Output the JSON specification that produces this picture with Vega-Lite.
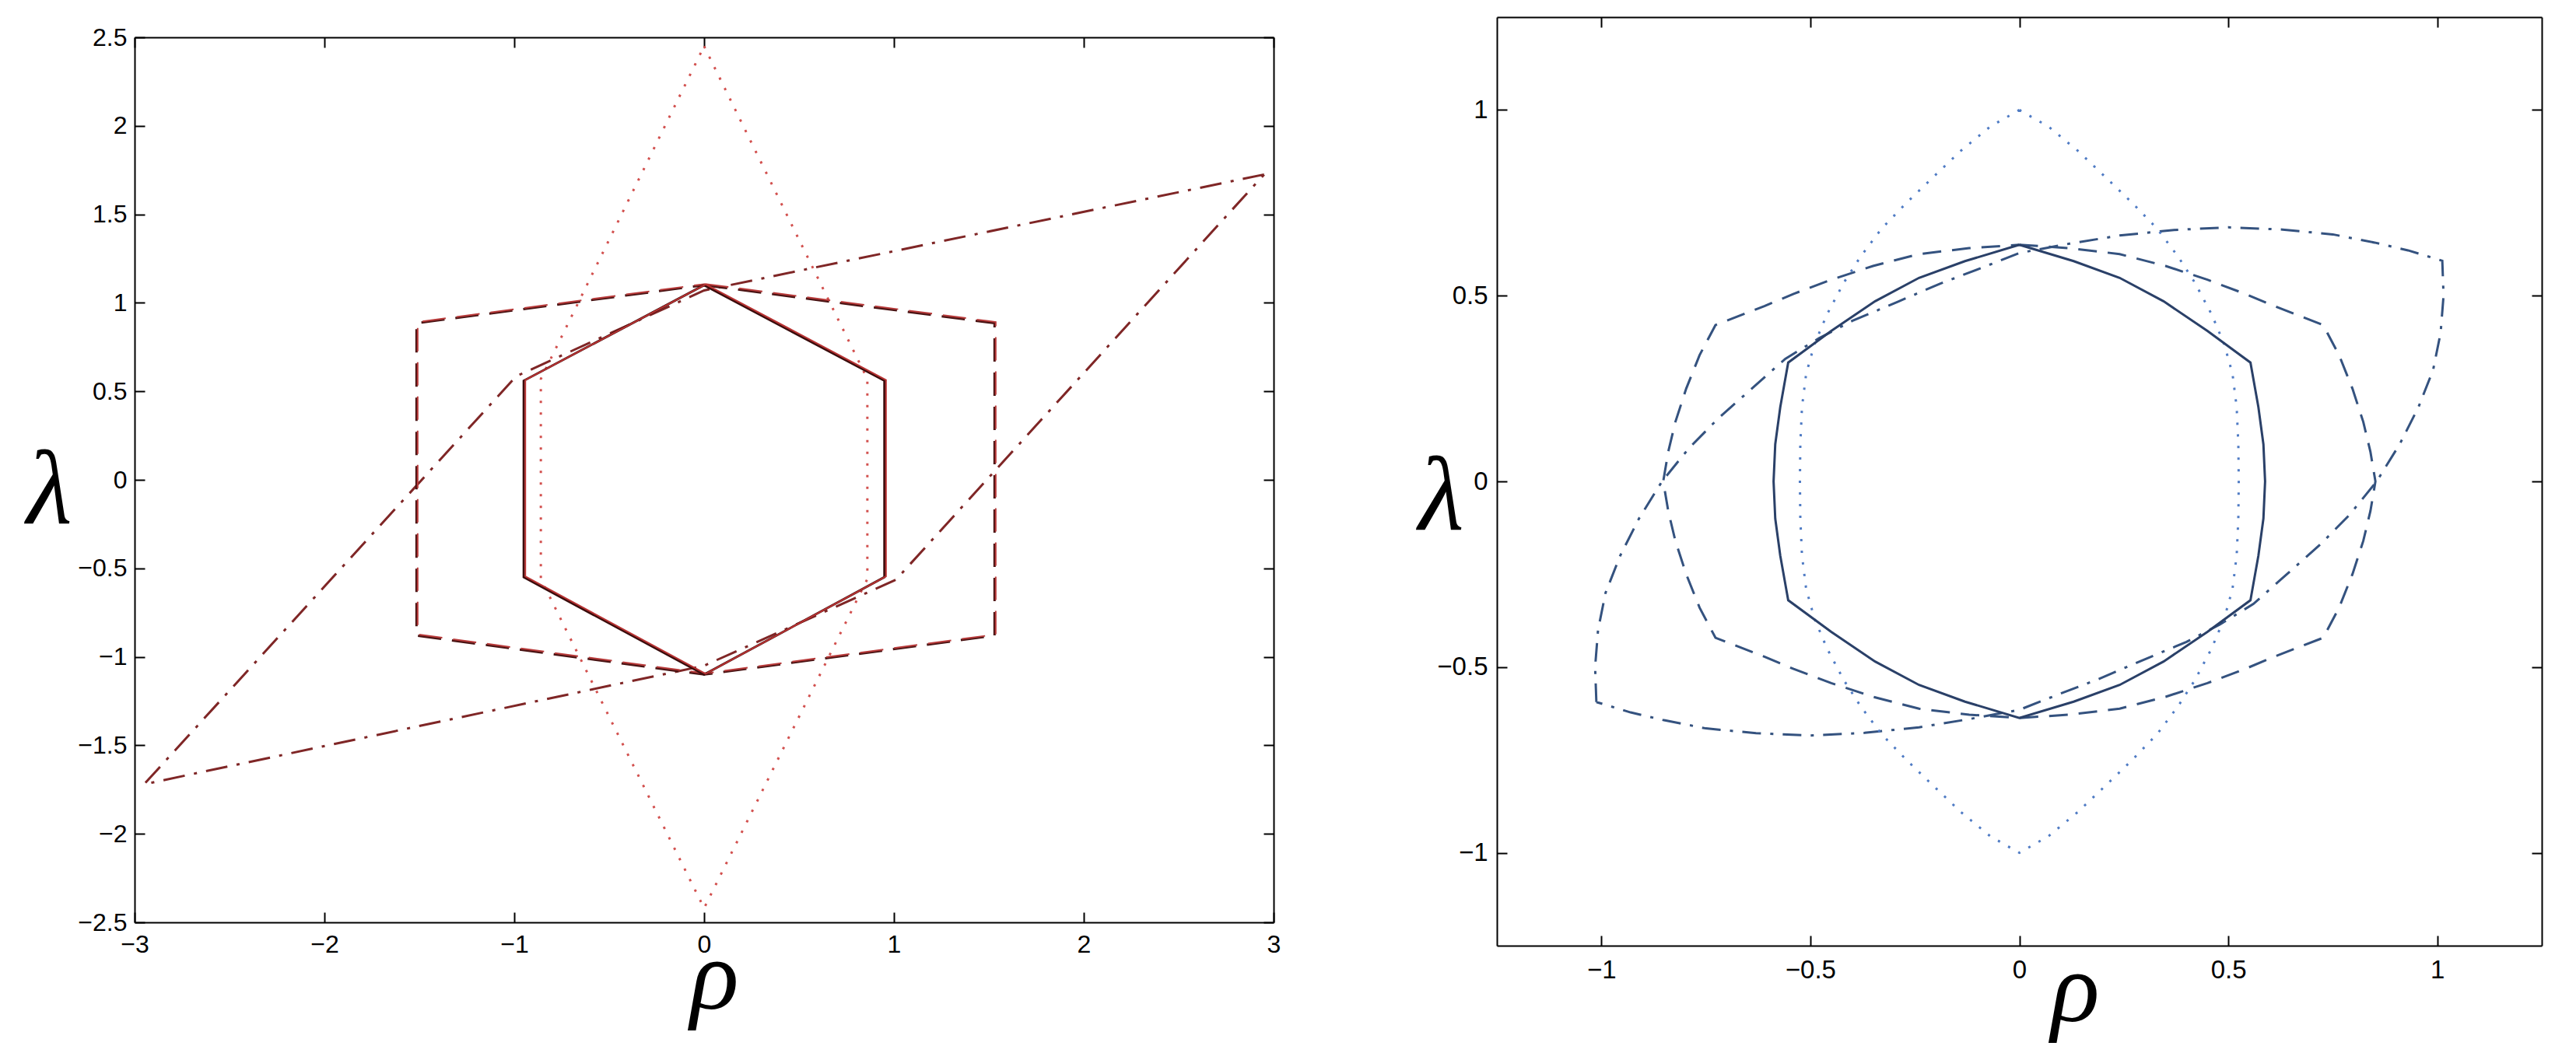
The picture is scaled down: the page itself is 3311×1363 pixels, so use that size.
{
"$schema": "https://vega.github.io/schema/vega-lite/v6.json",
"width": 3311, "height": 1363,
"autosize": {"type": "none"},
"padding": 0,
"background": "white",
"config": {"view": {"stroke": null}, "axis": {"grid": false, "labelFont": "Liberation Sans", "labelColor": "black", "tickColor": "black", "domainColor": "black", "domainWidth": 2, "tickWidth": 2, "titleColor": "black", "labelFlush": false, "labelOverlap": false}},
"datasets": {
"L": [
{"s":"solid","o":0,"x":0,"y":1.1},{"s":"solid","o":1,"x":0.95,"y":0.56},{"s":"solid","o":2,"x":0.95,"y":-0.55},{"s":"solid","o":3,"x":0,"y":-1.1},{"s":"solid","o":4,"x":-0.95,"y":-0.55},{"s":"solid","o":5,"x":-0.95,"y":0.56},{"s":"solid","o":6,"x":0,"y":1.1},
{"s":"dash","o":0,"x":0,"y":1.1},{"s":"dash","o":1,"x":1.53,"y":0.885},{"s":"dash","o":2,"x":1.53,"y":-0.88},{"s":"dash","o":3,"x":0,"y":-1.1},{"s":"dash","o":4,"x":-1.515,"y":-0.88},{"s":"dash","o":5,"x":-1.515,"y":0.885},{"s":"dash","o":6,"x":0,"y":1.1},
{"s":"dot","o":0,"x":0,"y":2.45},{"s":"dot","o":1,"x":0.86,"y":0.57},{"s":"dot","o":2,"x":0.86,"y":-0.56},{"s":"dot","o":3,"x":0,"y":-2.42},{"s":"dot","o":4,"x":-0.86,"y":-0.56},{"s":"dot","o":5,"x":-0.86,"y":0.57},{"s":"dot","o":6,"x":0,"y":2.45},
{"s":"dashdot","o":0,"x":2.95,"y":1.725},{"s":"dashdot","o":1,"x":0,"y":1.07},{"s":"dashdot","o":2,"x":-0.99,"y":0.585},{"s":"dashdot","o":3,"x":-2.95,"y":-1.72},{"s":"dashdot","o":4,"x":0,"y":-1.05},{"s":"dashdot","o":5,"x":1.01,"y":-0.565},{"s":"dashdot","o":6,"x":2.95,"y":1.725}
],
"R": [
{"s":"solid","o":0,"x":0,"y":0.637},{"s":"solid","o":1,"x":0.13,"y":0.593},{"s":"solid","o":2,"x":0.24,"y":0.548},{"s":"solid","o":3,"x":0.345,"y":0.485},{"s":"solid","o":4,"x":0.45,"y":0.405},{"s":"solid","o":5,"x":0.553,"y":0.32},{"s":"solid","o":6,"x":0.572,"y":0.2},{"s":"solid","o":7,"x":0.584,"y":0.1},{"s":"solid","o":8,"x":0.588,"y":0},{"s":"solid","o":9,"x":0.584,"y":-0.1},{"s":"solid","o":10,"x":0.572,"y":-0.2},{"s":"solid","o":11,"x":0.553,"y":-0.32},{"s":"solid","o":12,"x":0.45,"y":-0.405},{"s":"solid","o":13,"x":0.345,"y":-0.485},{"s":"solid","o":14,"x":0.24,"y":-0.548},{"s":"solid","o":15,"x":0.13,"y":-0.593},{"s":"solid","o":16,"x":0,"y":-0.637},{"s":"solid","o":17,"x":-0.13,"y":-0.593},{"s":"solid","o":18,"x":-0.24,"y":-0.548},{"s":"solid","o":19,"x":-0.345,"y":-0.485},{"s":"solid","o":20,"x":-0.45,"y":-0.405},{"s":"solid","o":21,"x":-0.553,"y":-0.32},{"s":"solid","o":22,"x":-0.572,"y":-0.2},{"s":"solid","o":23,"x":-0.584,"y":-0.1},{"s":"solid","o":24,"x":-0.588,"y":0},{"s":"solid","o":25,"x":-0.584,"y":0.1},{"s":"solid","o":26,"x":-0.572,"y":0.2},{"s":"solid","o":27,"x":-0.553,"y":0.32},{"s":"solid","o":28,"x":-0.45,"y":0.405},{"s":"solid","o":29,"x":-0.345,"y":0.485},{"s":"solid","o":30,"x":-0.24,"y":0.548},{"s":"solid","o":31,"x":-0.13,"y":0.593},{"s":"solid","o":32,"x":0,"y":0.637},
{"s":"dash","o":0,"x":0,"y":0.637},{"s":"dash","o":1,"x":0.12,"y":0.628},{"s":"dash","o":2,"x":0.24,"y":0.612},{"s":"dash","o":3,"x":0.35,"y":0.58},{"s":"dash","o":4,"x":0.45,"y":0.543},{"s":"dash","o":5,"x":0.54,"y":0.505},{"s":"dash","o":6,"x":0.61,"y":0.472},{"s":"dash","o":7,"x":0.727,"y":0.421},{"s":"dash","o":8,"x":0.765,"y":0.34},{"s":"dash","o":9,"x":0.797,"y":0.25},{"s":"dash","o":10,"x":0.823,"y":0.16},{"s":"dash","o":11,"x":0.84,"y":0.08},{"s":"dash","o":12,"x":0.852,"y":0},{"s":"dash","o":13,"x":0.84,"y":-0.08},{"s":"dash","o":14,"x":0.823,"y":-0.16},{"s":"dash","o":15,"x":0.797,"y":-0.25},{"s":"dash","o":16,"x":0.765,"y":-0.34},{"s":"dash","o":17,"x":0.727,"y":-0.421},{"s":"dash","o":18,"x":0.61,"y":-0.472},{"s":"dash","o":19,"x":0.54,"y":-0.505},{"s":"dash","o":20,"x":0.45,"y":-0.543},{"s":"dash","o":21,"x":0.35,"y":-0.58},{"s":"dash","o":22,"x":0.24,"y":-0.612},{"s":"dash","o":23,"x":0.12,"y":-0.628},{"s":"dash","o":24,"x":0,"y":-0.637},{"s":"dash","o":25,"x":-0.12,"y":-0.628},{"s":"dash","o":26,"x":-0.24,"y":-0.612},{"s":"dash","o":27,"x":-0.35,"y":-0.58},{"s":"dash","o":28,"x":-0.45,"y":-0.543},{"s":"dash","o":29,"x":-0.54,"y":-0.505},{"s":"dash","o":30,"x":-0.61,"y":-0.472},{"s":"dash","o":31,"x":-0.727,"y":-0.421},{"s":"dash","o":32,"x":-0.765,"y":-0.34},{"s":"dash","o":33,"x":-0.797,"y":-0.25},{"s":"dash","o":34,"x":-0.823,"y":-0.16},{"s":"dash","o":35,"x":-0.84,"y":-0.08},{"s":"dash","o":36,"x":-0.852,"y":0},{"s":"dash","o":37,"x":-0.84,"y":0.08},{"s":"dash","o":38,"x":-0.823,"y":0.16},{"s":"dash","o":39,"x":-0.797,"y":0.25},{"s":"dash","o":40,"x":-0.765,"y":0.34},{"s":"dash","o":41,"x":-0.727,"y":0.421},{"s":"dash","o":42,"x":-0.61,"y":0.472},{"s":"dash","o":43,"x":-0.54,"y":0.505},{"s":"dash","o":44,"x":-0.45,"y":0.543},{"s":"dash","o":45,"x":-0.35,"y":0.58},{"s":"dash","o":46,"x":-0.24,"y":0.612},{"s":"dash","o":47,"x":-0.12,"y":0.628},{"s":"dash","o":48,"x":0,"y":0.637},
{"s":"dot","o":0,"x":0,"y":1.0},{"s":"dot","o":1,"x":0.07,"y":0.955},{"s":"dot","o":2,"x":0.14,"y":0.89},{"s":"dot","o":3,"x":0.21,"y":0.815},{"s":"dot","o":4,"x":0.27,"y":0.75},{"s":"dot","o":5,"x":0.33,"y":0.68},{"s":"dot","o":6,"x":0.38,"y":0.605},{"s":"dot","o":7,"x":0.42,"y":0.535},{"s":"dot","o":8,"x":0.46,"y":0.45},{"s":"dot","o":9,"x":0.49,"y":0.37},{"s":"dot","o":10,"x":0.51,"y":0.29},{"s":"dot","o":11,"x":0.52,"y":0.2},{"s":"dot","o":12,"x":0.524,"y":0.1},{"s":"dot","o":13,"x":0.525,"y":0},{"s":"dot","o":14,"x":0.524,"y":-0.1},{"s":"dot","o":15,"x":0.52,"y":-0.2},{"s":"dot","o":16,"x":0.51,"y":-0.29},{"s":"dot","o":17,"x":0.49,"y":-0.37},{"s":"dot","o":18,"x":0.46,"y":-0.45},{"s":"dot","o":19,"x":0.42,"y":-0.535},{"s":"dot","o":20,"x":0.38,"y":-0.605},{"s":"dot","o":21,"x":0.33,"y":-0.68},{"s":"dot","o":22,"x":0.27,"y":-0.75},{"s":"dot","o":23,"x":0.21,"y":-0.815},{"s":"dot","o":24,"x":0.14,"y":-0.89},{"s":"dot","o":25,"x":0.07,"y":-0.955},{"s":"dot","o":26,"x":0,"y":-1.0},{"s":"dot","o":27,"x":-0.07,"y":-0.955},{"s":"dot","o":28,"x":-0.14,"y":-0.89},{"s":"dot","o":29,"x":-0.21,"y":-0.815},{"s":"dot","o":30,"x":-0.27,"y":-0.75},{"s":"dot","o":31,"x":-0.33,"y":-0.68},{"s":"dot","o":32,"x":-0.38,"y":-0.605},{"s":"dot","o":33,"x":-0.42,"y":-0.535},{"s":"dot","o":34,"x":-0.46,"y":-0.45},{"s":"dot","o":35,"x":-0.49,"y":-0.37},{"s":"dot","o":36,"x":-0.51,"y":-0.29},{"s":"dot","o":37,"x":-0.52,"y":-0.2},{"s":"dot","o":38,"x":-0.524,"y":-0.1},{"s":"dot","o":39,"x":-0.525,"y":0},{"s":"dot","o":40,"x":-0.524,"y":0.1},{"s":"dot","o":41,"x":-0.52,"y":0.2},{"s":"dot","o":42,"x":-0.51,"y":0.29},{"s":"dot","o":43,"x":-0.49,"y":0.37},{"s":"dot","o":44,"x":-0.46,"y":0.45},{"s":"dot","o":45,"x":-0.42,"y":0.535},{"s":"dot","o":46,"x":-0.38,"y":0.605},{"s":"dot","o":47,"x":-0.33,"y":0.68},{"s":"dot","o":48,"x":-0.27,"y":0.75},{"s":"dot","o":49,"x":-0.21,"y":0.815},{"s":"dot","o":50,"x":-0.14,"y":0.89},{"s":"dot","o":51,"x":-0.07,"y":0.955},{"s":"dot","o":52,"x":0,"y":1.0},
{"s":"dashdot","o":0,"x":-1.012,"y":-0.594},{"s":"dashdot","o":1,"x":-1.015,"y":-0.5},{"s":"dashdot","o":2,"x":-1.008,"y":-0.4},{"s":"dashdot","o":3,"x":-0.99,"y":-0.3},{"s":"dashdot","o":4,"x":-0.955,"y":-0.2},{"s":"dashdot","o":5,"x":-0.91,"y":-0.1},{"s":"dashdot","o":6,"x":-0.855,"y":0},{"s":"dashdot","o":7,"x":-0.79,"y":0.09},{"s":"dashdot","o":8,"x":-0.72,"y":0.17},{"s":"dashdot","o":9,"x":-0.64,"y":0.25},{"s":"dashdot","o":10,"x":-0.56,"y":0.33},{"s":"dashdot","o":11,"x":-0.48,"y":0.385},{"s":"dashdot","o":12,"x":-0.4,"y":0.432},{"s":"dashdot","o":13,"x":-0.29,"y":0.484},{"s":"dashdot","o":14,"x":-0.19,"y":0.532},{"s":"dashdot","o":15,"x":-0.09,"y":0.575},{"s":"dashdot","o":16,"x":0,"y":0.615},{"s":"dashdot","o":17,"x":0.12,"y":0.64},{"s":"dashdot","o":18,"x":0.24,"y":0.662},{"s":"dashdot","o":19,"x":0.37,"y":0.677},{"s":"dashdot","o":20,"x":0.5,"y":0.684},{"s":"dashdot","o":21,"x":0.63,"y":0.678},{"s":"dashdot","o":22,"x":0.75,"y":0.665},{"s":"dashdot","o":23,"x":0.85,"y":0.643},{"s":"dashdot","o":24,"x":0.93,"y":0.622},{"s":"dashdot","o":25,"x":1.012,"y":0.594},{"s":"dashdot","o":26,"x":1.015,"y":0.5},{"s":"dashdot","o":27,"x":1.008,"y":0.4},{"s":"dashdot","o":28,"x":0.99,"y":0.3},{"s":"dashdot","o":29,"x":0.955,"y":0.2},{"s":"dashdot","o":30,"x":0.91,"y":0.1},{"s":"dashdot","o":31,"x":0.855,"y":0},{"s":"dashdot","o":32,"x":0.79,"y":-0.09},{"s":"dashdot","o":33,"x":0.72,"y":-0.17},{"s":"dashdot","o":34,"x":0.64,"y":-0.25},{"s":"dashdot","o":35,"x":0.56,"y":-0.33},{"s":"dashdot","o":36,"x":0.48,"y":-0.385},{"s":"dashdot","o":37,"x":0.4,"y":-0.432},{"s":"dashdot","o":38,"x":0.29,"y":-0.484},{"s":"dashdot","o":39,"x":0.19,"y":-0.532},{"s":"dashdot","o":40,"x":0.09,"y":-0.575},{"s":"dashdot","o":41,"x":0,"y":-0.615},{"s":"dashdot","o":42,"x":-0.12,"y":-0.64},{"s":"dashdot","o":43,"x":-0.24,"y":-0.662},{"s":"dashdot","o":44,"x":-0.37,"y":-0.677},{"s":"dashdot","o":45,"x":-0.5,"y":-0.684},{"s":"dashdot","o":46,"x":-0.63,"y":-0.678},{"s":"dashdot","o":47,"x":-0.75,"y":-0.665},{"s":"dashdot","o":48,"x":-0.85,"y":-0.643},{"s":"dashdot","o":49,"x":-0.93,"y":-0.622},{"s":"dashdot","o":50,"x":-1.012,"y":-0.594}
]
},
"layer": [
{
 "data": {"name": "L"},
 "transform": [{"filter": "datum.s === 'dashdot'"}],
 "mark": {"type": "line", "color": "#7f2626", "strokeWidth": 3, "strokeDash": [28, 12, 4, 12]},
 "encoding": {
  "x": {"field": "x", "type": "quantitative", "scale": {"domain": [-3, 3], "range": [173, 1637], "nice": false, "zero": false},
   "axis": {"orient": "bottom", "offset": -177, "values": [-3, -2, -1, 0, 1, 2, 3], "format": "~g", "tickSize": -13, "labelPadding": 26, "labelFontSize": 32, "domain": true,
    "title": "ρ", "titleFont": "Liberation Serif", "titleFontStyle": "italic", "titleFontWeight": "normal", "titleFontSize": 130, "titleX": 918, "titleY": 110, "titleBaseline": "alphabetic", "titleAlign": "center", "titleAngle": 0}},
  "y": {"field": "y", "type": "quantitative", "scale": {"domain": [-2.5, 2.5], "range": [1186, 48], "nice": false, "zero": false},
   "axis": {"orient": "left", "offset": -173, "values": [-2.5, -2, -1.5, -1, -0.5, 0, 0.5, 1, 1.5, 2, 2.5], "format": "~g", "tickSize": -13, "labelPadding": 23, "labelFontSize": 32, "domain": true,
    "title": "λ", "titleFont": "Liberation Serif", "titleFontStyle": "italic", "titleFontWeight": "normal", "titleFontSize": 135, "titleX": -110, "titleY": 672, "titleBaseline": "alphabetic", "titleAlign": "center", "titleAngle": 0}},
  "order": {"field": "o", "type": "quantitative"}
 }
},
{
 "data": {"name": "L"},
 "transform": [{"filter": "datum.s === 'dot'"}],
 "mark": {"type": "line", "color": "#d2504e", "strokeWidth": 3, "strokeDash": [3, 12]},
 "encoding": {
  "x": {"field": "x", "type": "quantitative", "scale": {"domain": [-3, 3], "range": [173, 1637], "nice": false, "zero": false},
   "axis": {"orient": "top", "offset": -48, "values": [-3, -2, -1, 0, 1, 2, 3], "tickSize": -13, "labels": false, "domain": true, "title": null}},
  "y": {"field": "y", "type": "quantitative", "scale": {"domain": [-2.5, 2.5], "range": [1186, 48], "nice": false, "zero": false},
   "axis": {"orient": "right", "offset": -1674, "values": [-2.5, -2, -1.5, -1, -0.5, 0, 0.5, 1, 1.5, 2, 2.5], "tickSize": -13, "labels": false, "domain": true, "title": null}},
  "order": {"field": "o", "type": "quantitative"}
 }
},
{
 "data": {"name": "L"},
 "transform": [{"filter": "datum.s === 'dash'"}],
 "mark": {"type": "line", "color": "#4a1414", "strokeWidth": 3, "strokeDash": [30, 14]},
 "encoding": {
  "x": {"field": "x", "type": "quantitative", "scale": {"domain": [-3, 3], "range": [173, 1637], "nice": false, "zero": false}, "axis": null},
  "y": {"field": "y", "type": "quantitative", "scale": {"domain": [-2.5, 2.5], "range": [1186, 48], "nice": false, "zero": false}, "axis": null},
  "order": {"field": "o", "type": "quantitative"}
 }
},
{
 "data": {"name": "L"},
 "transform": [{"filter": "datum.s === 'dash'"}],
 "mark": {"type": "line", "color": "#b83a3a", "strokeWidth": 2, "strokeDash": [30, 14], "xOffset": 1.5, "yOffset": -1.5},
 "encoding": {
  "x": {"field": "x", "type": "quantitative", "scale": {"domain": [-3, 3], "range": [173, 1637], "nice": false, "zero": false}, "axis": null},
  "y": {"field": "y", "type": "quantitative", "scale": {"domain": [-2.5, 2.5], "range": [1186, 48], "nice": false, "zero": false}, "axis": null},
  "order": {"field": "o", "type": "quantitative"}
 }
},
{
 "data": {"name": "L"},
 "transform": [{"filter": "datum.s === 'solid'"}],
 "mark": {"type": "line", "color": "#3a0c0c", "strokeWidth": 3},
 "encoding": {
  "x": {"field": "x", "type": "quantitative", "scale": {"domain": [-3, 3], "range": [173, 1637], "nice": false, "zero": false}, "axis": null},
  "y": {"field": "y", "type": "quantitative", "scale": {"domain": [-2.5, 2.5], "range": [1186, 48], "nice": false, "zero": false}, "axis": null},
  "order": {"field": "o", "type": "quantitative"}
 }
},
{
 "data": {"name": "L"},
 "transform": [{"filter": "datum.s === 'solid'"}],
 "mark": {"type": "line", "color": "#b83232", "strokeWidth": 2, "xOffset": 2, "yOffset": -1},
 "encoding": {
  "x": {"field": "x", "type": "quantitative", "scale": {"domain": [-3, 3], "range": [173, 1637], "nice": false, "zero": false}, "axis": null},
  "y": {"field": "y", "type": "quantitative", "scale": {"domain": [-2.5, 2.5], "range": [1186, 48], "nice": false, "zero": false}, "axis": null},
  "order": {"field": "o", "type": "quantitative"}
 }
},
{
 "data": {"name": "R"},
 "transform": [{"filter": "datum.s === 'dashdot'"}],
 "mark": {"type": "line", "color": "#34527f", "strokeWidth": 3, "strokeDash": [24, 12, 4, 12]},
 "encoding": {
  "x": {"field": "x", "type": "quantitative", "scale": {"domain": [-1.25, 1.25], "range": [1924, 3267], "nice": false, "zero": false},
   "axis": {"orient": "bottom", "offset": -147, "values": [-1, -0.5, 0, 0.5, 1], "format": "~g", "tickSize": -13, "labelPadding": 28, "labelFontSize": 33, "domain": true,
    "title": "ρ", "titleFont": "Liberation Serif", "titleFontStyle": "italic", "titleFontWeight": "normal", "titleFontSize": 130, "titleX": 2667, "titleY": 96, "titleBaseline": "alphabetic", "titleAlign": "center", "titleAngle": 0}},
  "y": {"field": "y", "type": "quantitative", "scale": {"domain": [-1.25, 1.25], "range": [1216, 22], "nice": false, "zero": false},
   "axis": {"orient": "left", "offset": -1924, "values": [-1, -0.5, 0, 0.5, 1], "format": "~g", "tickSize": -13, "labelPadding": 25, "labelFontSize": 33, "domain": true,
    "title": "λ", "titleFont": "Liberation Serif", "titleFontStyle": "italic", "titleFontWeight": "normal", "titleFontSize": 135, "titleX": -72, "titleY": 680, "titleBaseline": "alphabetic", "titleAlign": "center", "titleAngle": 0}},
  "order": {"field": "o", "type": "quantitative"}
 }
},
{
 "data": {"name": "R"},
 "transform": [{"filter": "datum.s === 'dot'"}],
 "mark": {"type": "line", "color": "#4f7bc4", "strokeWidth": 3, "strokeDash": [3, 12]},
 "encoding": {
  "x": {"field": "x", "type": "quantitative", "scale": {"domain": [-1.25, 1.25], "range": [1924, 3267], "nice": false, "zero": false},
   "axis": {"orient": "top", "offset": -22, "values": [-1, -0.5, 0, 0.5, 1], "tickSize": -13, "labels": false, "domain": true, "title": null}},
  "y": {"field": "y", "type": "quantitative", "scale": {"domain": [-1.25, 1.25], "range": [1216, 22], "nice": false, "zero": false},
   "axis": {"orient": "right", "offset": -44, "values": [-1, -0.5, 0, 0.5, 1], "tickSize": -13, "labels": false, "domain": true, "title": null}},
  "order": {"field": "o", "type": "quantitative"}
 }
},
{
 "data": {"name": "R"},
 "transform": [{"filter": "datum.s === 'dash'"}],
 "mark": {"type": "line", "color": "#34527f", "strokeWidth": 3, "strokeDash": [24, 14]},
 "encoding": {
  "x": {"field": "x", "type": "quantitative", "scale": {"domain": [-1.25, 1.25], "range": [1924, 3267], "nice": false, "zero": false}, "axis": null},
  "y": {"field": "y", "type": "quantitative", "scale": {"domain": [-1.25, 1.25], "range": [1216, 22], "nice": false, "zero": false}, "axis": null},
  "order": {"field": "o", "type": "quantitative"}
 }
},
{
 "data": {"name": "R"},
 "transform": [{"filter": "datum.s === 'solid'"}],
 "mark": {"type": "line", "color": "#2a4068", "strokeWidth": 3},
 "encoding": {
  "x": {"field": "x", "type": "quantitative", "scale": {"domain": [-1.25, 1.25], "range": [1924, 3267], "nice": false, "zero": false}, "axis": null},
  "y": {"field": "y", "type": "quantitative", "scale": {"domain": [-1.25, 1.25], "range": [1216, 22], "nice": false, "zero": false}, "axis": null},
  "order": {"field": "o", "type": "quantitative"}
 }
}
],
"resolve": {"scale": {"x": "independent", "y": "independent"}}
}
